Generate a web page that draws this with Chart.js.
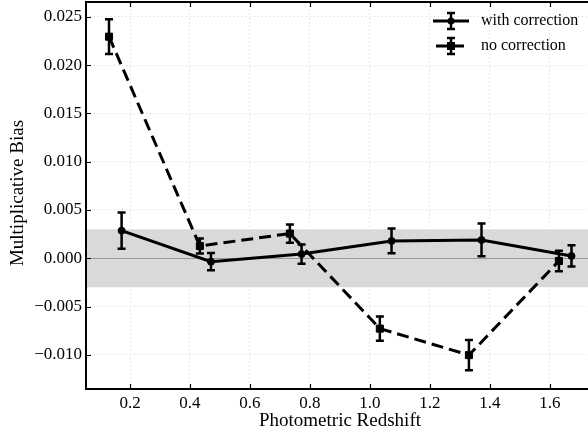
<!DOCTYPE html>
<html><head><meta charset="utf-8">
<script src="https://cdn.jsdelivr.net/npm/chart.js@4.4.0/dist/chart.umd.min.js"></script>
<style>html,body{margin:0;padding:0;background:#fff}canvas{display:block}</style>
</head><body>
<canvas id="c" width="588" height="433"></canvas>
<script>
// ---- data ----
const zWith = [0.172, 0.470, 0.772, 1.072, 1.372, 1.672];
const mWith = [0.00286, -0.00035, 0.00044, 0.00180, 0.00190, 0.00024];
const eWith = [0.00188, 0.00090, 0.00100, 0.00128, 0.00170, 0.00110];
const zNo = [0.130, 0.433, 0.733, 1.033, 1.330, 1.630];
const mNo = [0.02294, 0.00127, 0.00256, -0.00728, -0.01002, -0.00028];
const eNo = [0.00180, 0.00078, 0.00095, 0.00126, 0.00157, 0.00105];
const xTicks = [0.2, 0.4, 0.6, 0.8, 1.0, 1.2, 1.4, 1.6];
const yTicks = [-0.010, -0.005, 0.000, 0.005, 0.010, 0.015, 0.020, 0.025];
const bandHalf = 0.003;
const seriesNames = ['with correction', 'no correction'];
const xTitle = 'Photometric Redshift';
const yTitle = 'Multiplicative Bias';

const FONT = "'Liberation Serif', 'Times New Roman', serif";
Chart.defaults.font.family = FONT;
Chart.defaults.font.size = 17;
Chart.defaults.color = '#000';
const errs = [eWith, eNo];

const toXY = (xs, ys) => xs.map((x, i) => ({x: x, y: ys[i]}));

const bandPlugin = {
  id: 'band',
  beforeDatasetsDraw(chart) {
    const {ctx, chartArea: a, scales: {y}} = chart;
    ctx.save();
    ctx.fillStyle = '#d9d9d9';
    const y1 = y.getPixelForValue(bandHalf), y2 = y.getPixelForValue(-bandHalf);
    ctx.fillRect(a.left, y1, a.right - a.left, y2 - y1);
    ctx.strokeStyle = '#999999';
    ctx.lineWidth = 1;
    const y0 = Math.round(y.getPixelForValue(0)) + 0.5;
    ctx.beginPath(); ctx.moveTo(a.left, y0); ctx.lineTo(a.right, y0); ctx.stroke();
    ctx.restore();
  }
};

const errPlugin = {
  id: 'errbars',
  afterDatasetsDraw(chart) {
    const {ctx, scales: {y}} = chart;
    ctx.save();
    ctx.strokeStyle = '#000';
    ctx.lineWidth = 2.5;
    chart.data.datasets.forEach((ds, di) => {
      const meta = chart.getDatasetMeta(di);
      ds.data.forEach((p, i) => {
        const px = meta.data[i].x;
        const yt = y.getPixelForValue(p.y + errs[di][i]);
        const yb = y.getPixelForValue(p.y - errs[di][i]);
        ctx.beginPath();
        ctx.moveTo(px, yt); ctx.lineTo(px, yb);
        ctx.moveTo(px - 4, yt); ctx.lineTo(px + 4, yt);
        ctx.moveTo(px - 4, yb); ctx.lineTo(px + 4, yb);
        ctx.stroke();
      });
    });
    ctx.restore();
  }
};

const framePlugin = {
  id: 'frame',
  afterDraw(chart) {
    const {ctx, chartArea: a, scales: {x, y}} = chart;
    ctx.save();
    ctx.strokeStyle = '#000';
    ctx.lineWidth = 2;
    ctx.beginPath();
    ctx.moveTo(a.right + 2, a.top); ctx.lineTo(a.left, a.top);
    ctx.lineTo(a.left, a.bottom); ctx.lineTo(a.right + 2, a.bottom);
    ctx.stroke();
    ctx.lineWidth = 1.2;
    ctx.beginPath();
    xTicks.forEach(v => {
      const px = Math.round(x.getPixelForValue(v)) + 0.5;
      ctx.moveTo(px, a.bottom); ctx.lineTo(px, a.bottom - 5);
      ctx.moveTo(px, a.top); ctx.lineTo(px, a.top + 5);
    });
    yTicks.forEach(v => {
      const py = Math.round(y.getPixelForValue(v)) + 0.5;
      ctx.moveTo(a.left, py); ctx.lineTo(a.left + 5, py);
    });
    ctx.stroke();

    // axis titles
    ctx.fillStyle = '#000';
    ctx.font = '19px ' + FONT;
    ctx.textAlign = 'center';
    ctx.textBaseline = 'middle';
    ctx.fillText(xTitle, 340, 421);
    ctx.save();
    ctx.translate(18, 193);
    ctx.rotate(-Math.PI / 2);
    ctx.fillText(yTitle, 0, 0);
    ctx.restore();

    // legend
    const rows = [21, 46];
    ctx.font = '16px ' + FONT;
    ctx.textAlign = 'left';
    rows.forEach((ry, i) => {
      ctx.lineWidth = 3;
      ctx.setLineDash(i === 1 ? [11, 6] : []);
      ctx.beginPath();
      ctx.moveTo(i === 1 ? 436 : 433, ry); ctx.lineTo(i === 1 ? 464 : 469, ry);
      ctx.stroke();
      ctx.setLineDash([]);
      ctx.lineWidth = 2.5;
      ctx.beginPath();
      ctx.moveTo(451, ry - 8); ctx.lineTo(451, ry + 8);
      ctx.moveTo(447, ry - 8); ctx.lineTo(455, ry - 8);
      ctx.moveTo(447, ry + 8); ctx.lineTo(455, ry + 8);
      ctx.stroke();
      ctx.beginPath();
      if (i === 0) { ctx.arc(451, ry, 3.5, 0, Math.PI * 2); }
      else { ctx.rect(447, ry - 4, 8, 8); }
      ctx.fill();
      ctx.fillText(seriesNames[i], 481, ry);
    });
    ctx.restore();
  }
};

const zeroPad = s => { s.paddingTop = 0; s.paddingBottom = 0; s.paddingLeft = 0; s.paddingRight = 0; };

new Chart(document.getElementById('c'), {
  type: 'line',
  data: {
    datasets: [
      {
        label: seriesNames[0],
        data: toXY(zWith, mWith),
        borderColor: '#000', backgroundColor: '#000',
        borderWidth: 3,
        pointStyle: 'circle', pointRadius: 3.5,
        pointBorderColor: '#000', pointBackgroundColor: '#000', pointBorderWidth: 1,
        fill: false, tension: 0, clip: false
      },
      {
        label: seriesNames[1],
        data: toXY(zNo, mNo),
        borderColor: '#000', backgroundColor: '#000',
        borderWidth: 3, borderDash: [12, 6],
        pointStyle: 'rect', pointRadius: 5,
        pointBorderColor: '#000', pointBackgroundColor: '#000', pointBorderWidth: 1,
        fill: false, tension: 0, clip: false
      }
    ]
  },
  options: {
    responsive: false,
    animation: false,
    devicePixelRatio: 1,
    layout: {autoPadding: false, padding: {top: 2, left: 0, right: 0, bottom: 0}},
    plugins: {legend: {display: false}, tooltip: {enabled: false}},
    scales: {
      x: {
        type: 'linear',
        min: 0.0533, max: 1.727,
        afterBuildTicks: s => { s.ticks = xTicks.map(v => ({value: v})); },
        afterFit: s => { s.height = 44; zeroPad(s); },
        ticks: {
          font: {family: FONT, size: 17}, color: '#000', padding: 4,
          maxRotation: 0, autoSkip: false,
          callback: v => Number(v).toFixed(1)
        },
        grid: {color: '#d4d4d4', lineWidth: 1, drawTicks: false},
        border: {display: false, dash: [1, 3]}
      },
      y: {
        type: 'linear',
        min: -0.01353, max: 0.02653,
        afterBuildTicks: s => { s.ticks = yTicks.map(v => ({value: v})); },
        afterFit: s => { s.width = 86; zeroPad(s); },
        ticks: {
          font: {family: FONT, size: 17}, color: '#000', padding: 4,
          callback: v => (v < -1e-9 ? '\u2212' : '') + Math.abs(v).toFixed(3)
        },
        grid: {color: '#d4d4d4', lineWidth: 1, drawTicks: false},
        border: {display: false, dash: [1, 3]}
      }
    }
  },
  plugins: [bandPlugin, errPlugin, framePlugin]
});
</script>
</body></html>
